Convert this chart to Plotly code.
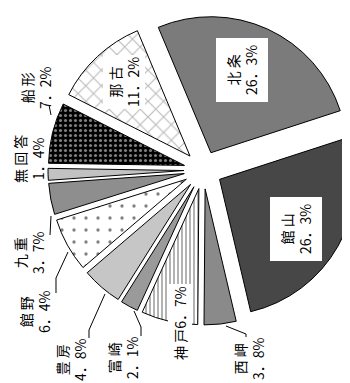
import plotly.graph_objects as go

W, H = 350, 383

areas = ["館山", "西岬", "神戸", "富崎", "豊房", "館野", "九重", "無回答", "船形", "那古", "北条"]
shares = [26.3, 3.8, 6.7, 2.1, 4.8, 6.4, 3.7, 1.4, 7.2, 11.2, 26.3]
share_text = ["26．3%", "3．8%", "6．7%", "2．1%", "4．8%", "6．4%", "3．7%", "1．4%", "7．2%", "11．2%", "26．3%"]

fills = ["#474747", "#8a8a8a", "white", "#9a9a9a", "#c6c6c6", "white",
         "#8e8e8e", "#c2c2c2", "black", "white", "#7b7b7b"]
shapes_pat = ["", "", "|", "", "", ".", "", "", ".", "x", ""]
pat_fg = ["black", "black", "black", "black", "black", "black",
          "black", "black", "white", "#777777", "black"]
pat_size = [8, 8, 4, 8, 8, 12, 8, 8, 5, 11, 8]
pat_sol = [0.3, 0.3, 0.3, 0.3, 0.3, 0.06, 0.3, 0.3, 0.3, 0.2, 0.3]


def px(x, y):
    return x / W, 1 - y / H


# pie centre ~ (195, 162) px, every slice pulled out by ~19 px
cx, cy, half = 195, 162, 155

fig = go.Figure(go.Pie(
    labels=areas, values=shares, sort=False, direction="clockwise",
    rotation=72, pull=0.14, textinfo="none", hoverinfo="label+percent",
    marker=dict(colors=fills, line=dict(color="black", width=1),
                pattern=dict(shape=shapes_pat, fgcolor=pat_fg, size=pat_size,
                             solidity=pat_sol, fillmode="overlay")),
    domain=dict(x=[(cx - half) / W, (cx + half) / W],
                y=[1 - (cy + half) / H, 1 - (cy - half) / H]),
))

font = dict(family="Noto Sans CJK JP", size=14, color="black")

# label positions in px (centre of the rotated text block)
label_pos = {
    "北条": (234, 62, True, 6), "館山": (288, 221, True, 6),
    "那古": (116, 74, True, 1), "神戸": (172, 315, True, 1),
    "船形": (28, 80, False, 0), "無回答": (21, 151, False, 0),
    "九重": (21, 245, False, 0), "館野": (27, 304, False, 0),
    "豊房": (63, 352, False, 0), "富崎": (115, 350, False, 0),
    "西岬": (241, 351, False, 0),
}

for name, pct in zip(areas, share_text):
    x, y, box, pad = label_pos[name]
    spaced = " ".join(name)
    text = spaced + pct if name == "神戸" else spaced + "<br>" + pct
    ax, ay = px(x, y)
    fig.add_annotation(x=ax, y=ay, xref="paper", yref="paper", text=text,
                       showarrow=False, textangle=-90, font=font, align="center",
                       xanchor="center", yanchor="middle",
                       bgcolor="#ffffff" if box else "rgba(0,0,0,0)",
                       bordercolor="#ffffff" if box else "rgba(0,0,0,0)",
                       borderwidth=1, borderpad=pad)

leaders = [
    [(41, 97), (43, 107)],
    [(42, 227), (43, 208)],
    [(48, 285), (48, 270), (60, 244)],
    [(81, 330), (81, 322), (97, 286)],
    [(133, 328), (133, 319), (126, 303)],
    [(238, 329), (238, 326), (218, 318)],
]
for pts in leaders:
    path = ""
    for i, (x, y) in enumerate(pts):
        a, b = px(x, y)
        path += ("M" if i == 0 else "L") + f"{a:.4f},{b:.4f} "
    fig.add_shape(type="path", path=path, xref="paper", yref="paper",
                  line=dict(color="black", width=1))

fig.update_layout(width=W, height=H, margin=dict(l=0, r=0, t=0, b=0),
                  showlegend=False, paper_bgcolor="white", plot_bgcolor="white")
fig.write_html("out.html")
